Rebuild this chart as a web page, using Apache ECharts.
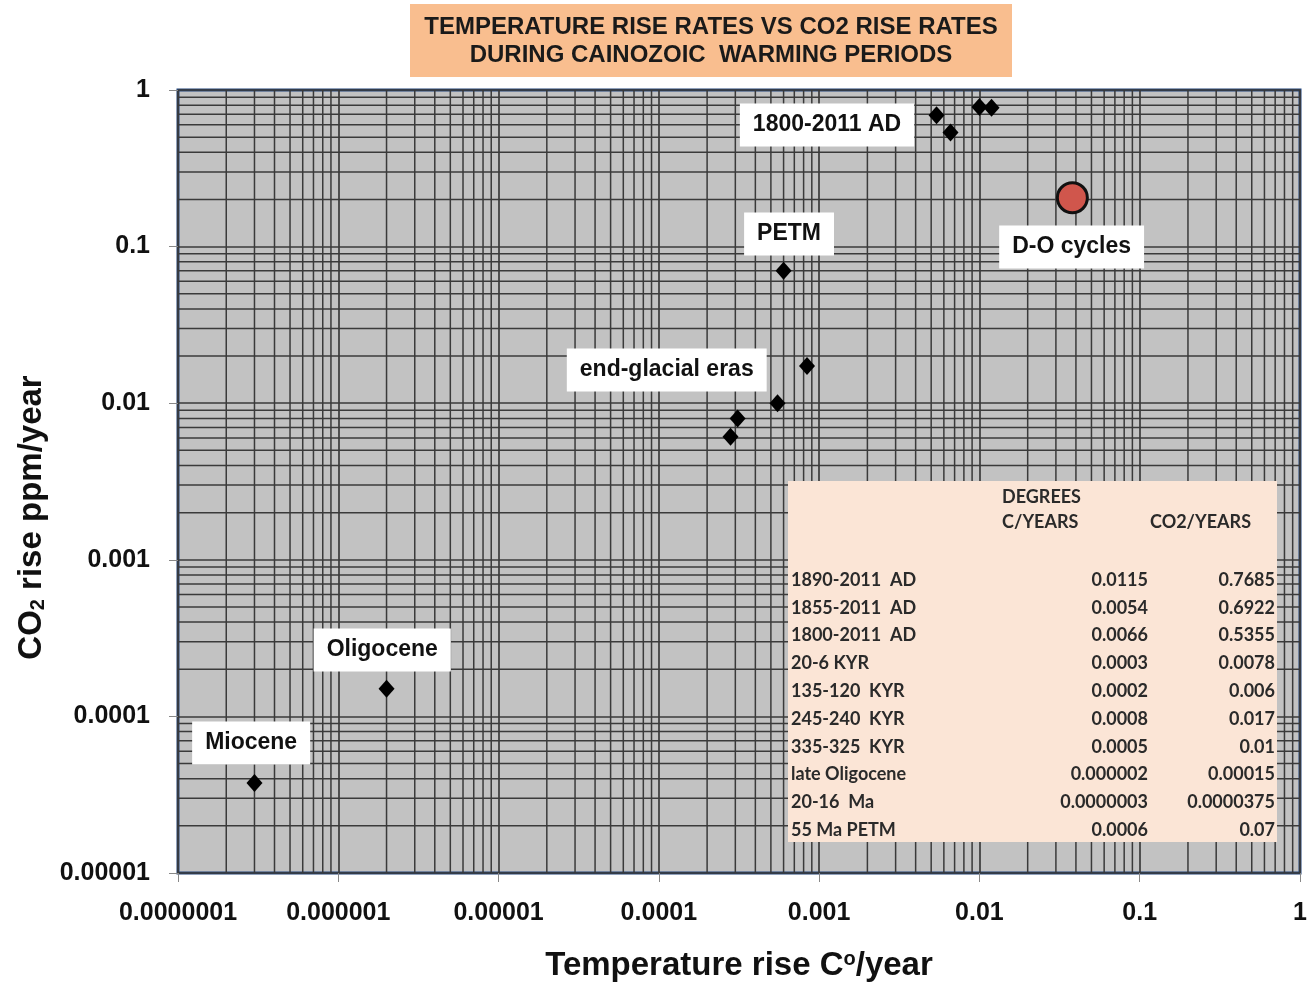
<!DOCTYPE html>
<html><head><meta charset="utf-8">
<script src="https://cdn.jsdelivr.net/npm/echarts@6/dist/echarts.min.js"></script>
<style>html,body{margin:0;padding:0;background:#fff}#c{width:1310px;height:991px}</style>
</head><body><div id="c"></div>
<script>
// ---- data ----
const tempRates = [0.0119, 0.0054, 0.0066, 0.0100, 0.00031, 0.00028, 0.00084, 0.00055, 0.000002, 0.0000003, 0.0006];
const co2Rates  = [0.77, 0.69, 0.535, 0.78, 0.0080, 0.0061, 0.0173, 0.0100, 0.00015, 0.0000375, 0.07];
const doTemp = [0.038];
const doCo2  = [0.205];
const xTickLabels = ['0.0000001','0.000001','0.00001','0.0001','0.001','0.01','0.1','1'];
const yTickLabels = ['0.00001','0.0001','0.001','0.01','0.1','1'];
const annoText = ['1800-2011 AD','PETM','D-O cycles','end-glacial eras','Oligocene','Miocene'];
const annoX = [0.00112, 0.000649, 0.0376, 0.000112, 0.00000188, 0.000000286];
const annoY = [0.598, 0.1204, 0.0994, 0.0163, 0.000265, 0.0000676];
const tableNames = ['1890-2011  AD','1855-2011  AD','1800-2011  AD','20-6 KYR','135-120  KYR','245-240  KYR','335-325  KYR','late Oligocene','20-16  Ma','55 Ma PETM'];
const tableDeg = ['0.0115','0.0054','0.0066','0.0003','0.0002','0.0008','0.0005','0.000002','0.0000003','0.0006'];
const tableCO2 = ['0.7685','0.6922','0.5355','0.0078','0.006','0.017','0.01','0.00015','0.0000375','0.07'];
const titleText = 'TEMPERATURE RISE RATES VS CO2 RISE RATES\nDURING CAINOZOIC  WARMING PERIODS';

// ---- build ----
const FONT = "'Liberation Sans Narrow','Arial Narrow','Liberation Sans',Arial,sans-serif";
const X_MIN = 1e-7, X_MAX = 1, Y_MIN = 1e-5, Y_MAX = 1;
const minorX = [], minorY = [];
for (let e = -7; e < 0; e++) for (let m = 2; m <= 9; m++) minorX.push(m * Math.pow(10, e));
for (let e = -5; e < 0; e++) for (let m = 2; m <= 9; m++) minorY.push(m * Math.pow(10, e));

const lineCol = '#3a3a3a';
const lineW = 1.5;
function vLine(params, api) {
  const p1 = api.coord([api.value(0), Y_MIN]), p2 = api.coord([api.value(0), Y_MAX]);
  return {type:'line', shape:{x1:p1[0], y1:p1[1], x2:p2[0], y2:p2[1]}, style:{stroke:lineCol, lineWidth:lineW}};
}
function hLine(params, api) {
  const p1 = api.coord([X_MIN, api.value(1)]), p2 = api.coord([X_MAX, api.value(1)]);
  return {type:'line', shape:{x1:p1[0], y1:p1[1], x2:p2[0], y2:p2[1]}, style:{stroke:lineCol, lineWidth:lineW}};
}

const tableChildren = [{type:'rect', z:100, shape:{x:788,y:481,width:489,height:361}, style:{fill:'#fbe5d6'}}];
const tfont = "bold 18px Lato, 'Open Sans', sans-serif";
const tcol = '#2a2a2a';
tableChildren.push({type:'text', z:101, style:{text:'DEGREES\nC/YEARS', x:1002, y:485, font:tfont, fill:tcol, lineHeight:25}});
tableChildren.push({type:'text', z:101, style:{text:'CO2/YEARS', x:1150, y:513, font:tfont, fill:tcol}});
tableNames.forEach((n, i) => {
  const y = 580 + i * 27.8;
  tableChildren.push({type:'text', z:101, style:{text:n, x:791, y:y, font:tfont, fill:tcol, verticalAlign:'middle'}});
  tableChildren.push({type:'text', z:101, style:{text:tableDeg[i], x:1148, y:y, font:tfont, fill:tcol, align:'right', verticalAlign:'middle'}});
  tableChildren.push({type:'text', z:101, style:{text:tableCO2[i], x:1275, y:y, font:tfont, fill:tcol, align:'right', verticalAlign:'middle'}});
});

const chart = echarts.init(document.getElementById('c'), null, {renderer:'canvas'});
chart.setOption({
  animation: false,
  backgroundColor: '#fff',
  grid: {left:178, right:10, top:90, bottom:118, show:true, backgroundColor:'#c2c2c2', borderColor:'#23457a', borderWidth:3},
  xAxis: {
    type:'log', logBase:10, min:X_MIN, max:X_MAX, interval:1, splitNumber:7,
    axisLine:{show:false},
    axisTick:{show:true, length:9, lineStyle:{color:'#888'}},
    splitLine:{show:true, lineStyle:{color:lineCol, width:1.7}},
    axisLabel:{margin:28, fontFamily:FONT, fontWeight:'bold', fontSize:25, color:'#111',
      formatter: v => xTickLabels[Math.round(Math.log10(v)) + 7]},
    name:'Temperature rise C{sup|o}/year', nameLocation:'middle', nameGap:76,
    nameTextStyle:{fontFamily:FONT, fontWeight:'bold', fontSize:33, color:'#111',
      rich:{sup:{fontFamily:FONT, fontWeight:'bold', fontSize:20, color:'#111', verticalAlign:'top', padding:[0,0,12,0]}}}
  },
  yAxis: {
    type:'log', logBase:10, min:Y_MIN, max:Y_MAX, interval:1, splitNumber:5,
    axisLine:{show:false},
    axisTick:{show:true, length:9, lineStyle:{color:'#888'}},
    splitLine:{show:true, lineStyle:{color:lineCol, width:1.7}},
    axisLabel:{margin:28, fontFamily:FONT, fontWeight:'bold', fontSize:25, color:'#111',
      formatter: v => yTickLabels[Math.round(Math.log10(v)) + 5]},
    name:'CO{sub|2} rise ppm/year', nameLocation:'middle', nameGap:128, nameRotate:90,
    nameTextStyle:{fontFamily:FONT, fontWeight:'bold', fontSize:33, color:'#111', padding:[0,72,0,0],
      rich:{sub:{fontFamily:FONT, fontWeight:'bold', fontSize:20, color:'#111', verticalAlign:'bottom', padding:[12,0,0,0]}}}
  },
  graphic: [
    {type:'rect', shape:{x:410,y:4,width:602,height:73}, style:{fill:'#f9be8f'}, z:100},
    {type:'text', style:{text:titleText, x:711, y:41, align:'center', verticalAlign:'middle',
      font:"bold 24px " + FONT, fill:'#1a1a1a', lineHeight:28}, z:101},
    {type:'group', children: tableChildren}
  ],
  series: [
    {type:'custom', z:1, silent:true, renderItem:vLine, data: minorX.map(v => [v, Y_MIN])},
    {type:'custom', z:1, silent:true, renderItem:hLine, data: minorY.map(v => [X_MIN, v])},
    {type:'scatter', symbol:'diamond', symbolSize:[16,18], itemStyle:{color:'#000', opacity:1}, z:5,
      data: tempRates.map((x, i) => [x, co2Rates[i]])},
    {type:'scatter', symbol:'circle', symbolSize:30, itemStyle:{color:'#d0564c', borderColor:'#111', borderWidth:3, opacity:1}, z:5,
      data: doTemp.map((x, i) => [x, doCo2[i]])},
    {type:'scatter', symbolSize:0, z:6, silent:true, itemStyle:{opacity:1},
      data: annoText.map((t, i) => ({name:t, value:[annoX[i], annoY[i]]})),
      label:{show:true, position:'inside', formatter: p => p.name, backgroundColor:'#fff',
        padding:[10,13,10,13], fontFamily:FONT, fontWeight:'bold', fontSize:23, color:'#111'}}
  ]
});
</script></body></html>
